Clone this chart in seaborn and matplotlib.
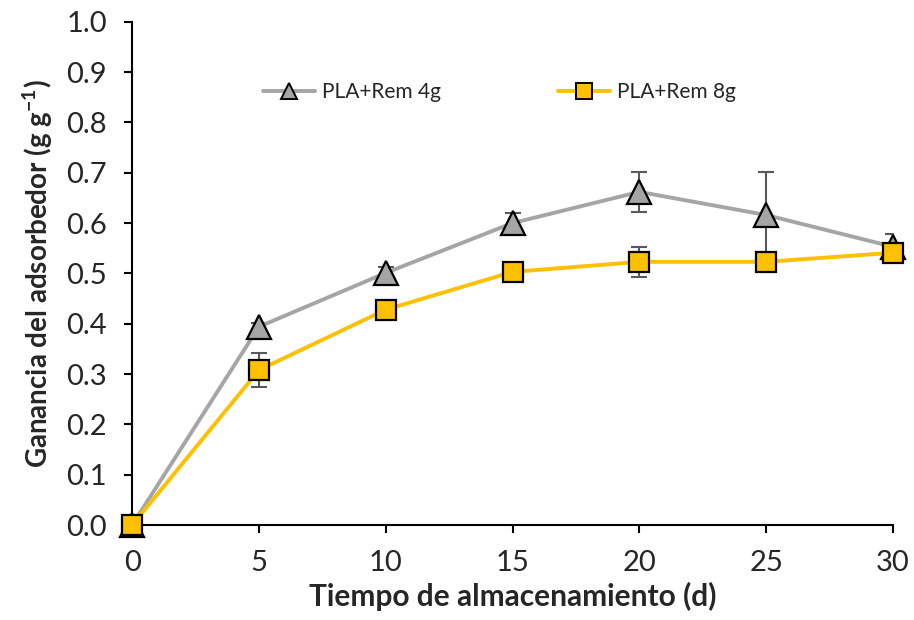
import matplotlib
matplotlib.use("Agg")
import matplotlib.pyplot as plt
import seaborn as sns
import pandas as pd
import numpy as np

dias = [0, 5, 10, 15, 20, 25, 30]
rem4 = [0.0, 0.394, 0.501, 0.600, 0.662, 0.616, 0.553]
err4 = [0.0, 0.008, 0.012, 0.020, 0.040, 0.085, 0.025]
rem8 = [0.0, 0.308, 0.428, 0.503, 0.523, 0.523, 0.541]
err8 = [0.0, 0.034, 0.018, 0.012, 0.030, 0.010, 0.010]
series = ["PLA+Rem 4g", "PLA+Rem 8g"]
colors = {"PLA+Rem 4g": "#A5A5A5", "PLA+Rem 8g": "#FFC000"}
xticks = [0, 5, 10, 15, 20, 25, 30]
yticks = [0.0, 0.1, 0.2, 0.3, 0.4, 0.5, 0.6, 0.7, 0.8, 0.9, 1.0]

df = pd.DataFrame({
    "dia": dias * 2,
    "valor": rem4 + rem8,
    "serie": [series[0]] * len(dias) + [series[1]] * len(dias),
})

sns.set_style("ticks")
plt.rcParams['font.family'] = ['Lato', 'DejaVu Sans']
plt.rcParams['mathtext.fontset'] = 'custom'
plt.rcParams['mathtext.rm'] = 'Lato'
plt.rcParams['mathtext.bf'] = 'Lato:bold'

fig, ax = plt.subplots(figsize=(9.14, 6.2), dpi=100)
fig.subplots_adjust(left=0.1445, right=0.977, bottom=0.153, top=0.965)

for vals, errs in [(rem4, err4), (rem8, err8)]:
    ax.errorbar(dias[1:], vals[1:], yerr=errs[1:], fmt='none', ecolor='#595959',
                elinewidth=1.5, capsize=6, capthick=1.5, zorder=1)

sns.lineplot(data=df, x="dia", y="valor", hue="serie", style="serie",
             palette=colors, markers={series[0]: "^", series[1]: "s"},
             dashes=False, linewidth=2.8, markeredgecolor='black',
             markeredgewidth=1.6, ax=ax, zorder=3)

for line in ax.get_lines():
    m = line.get_marker()
    if m == "^":
        line.set_markersize(17)
        line.set_clip_on(False)
    elif m == "s":
        line.set_markersize(14)
        line.set_clip_on(False)

ax.set_xlim(0, 30)
ax.set_ylim(0, 1.0)
ax.set_xticks(xticks)
ax.set_yticks(yticks)
ax.set_yticklabels([f"{v:.1f}" for v in yticks])
ax.tick_params(axis='both', labelsize=21, direction='out', length=6, width=1.5, color='black')
ax.tick_params(axis='x', pad=12)
ax.tick_params(axis='y', pad=12)
for s in ["left", "bottom"]:
    ax.spines[s].set_linewidth(1.5)
    ax.spines[s].set_color('black')
sns.despine(ax=ax)

ax.set_xlabel("Tiempo de almacenamiento (d)", fontsize=21.5, fontweight='bold', labelpad=4)
ax.set_ylabel(r"Ganancia del adsorbedor (g g$^{\mathbf{-1}}$)", fontsize=20, fontweight='bold', labelpad=8)

handles, labels = ax.get_legend_handles_labels()
for h, ms in zip(handles, [12, 11]):
    h.set_markersize(ms)
    h.set_markeredgecolor('black')
    h.set_markeredgewidth(1.4)
ax.legend(handles, labels, ncol=2, frameon=False, loc='center left',
          bbox_to_anchor=(0.172, 0.86), fontsize=15, columnspacing=5.6,
          handlelength=2.5, handletextpad=0.35, borderpad=0, borderaxespad=0)

fig.savefig("out.png", dpi=100)
